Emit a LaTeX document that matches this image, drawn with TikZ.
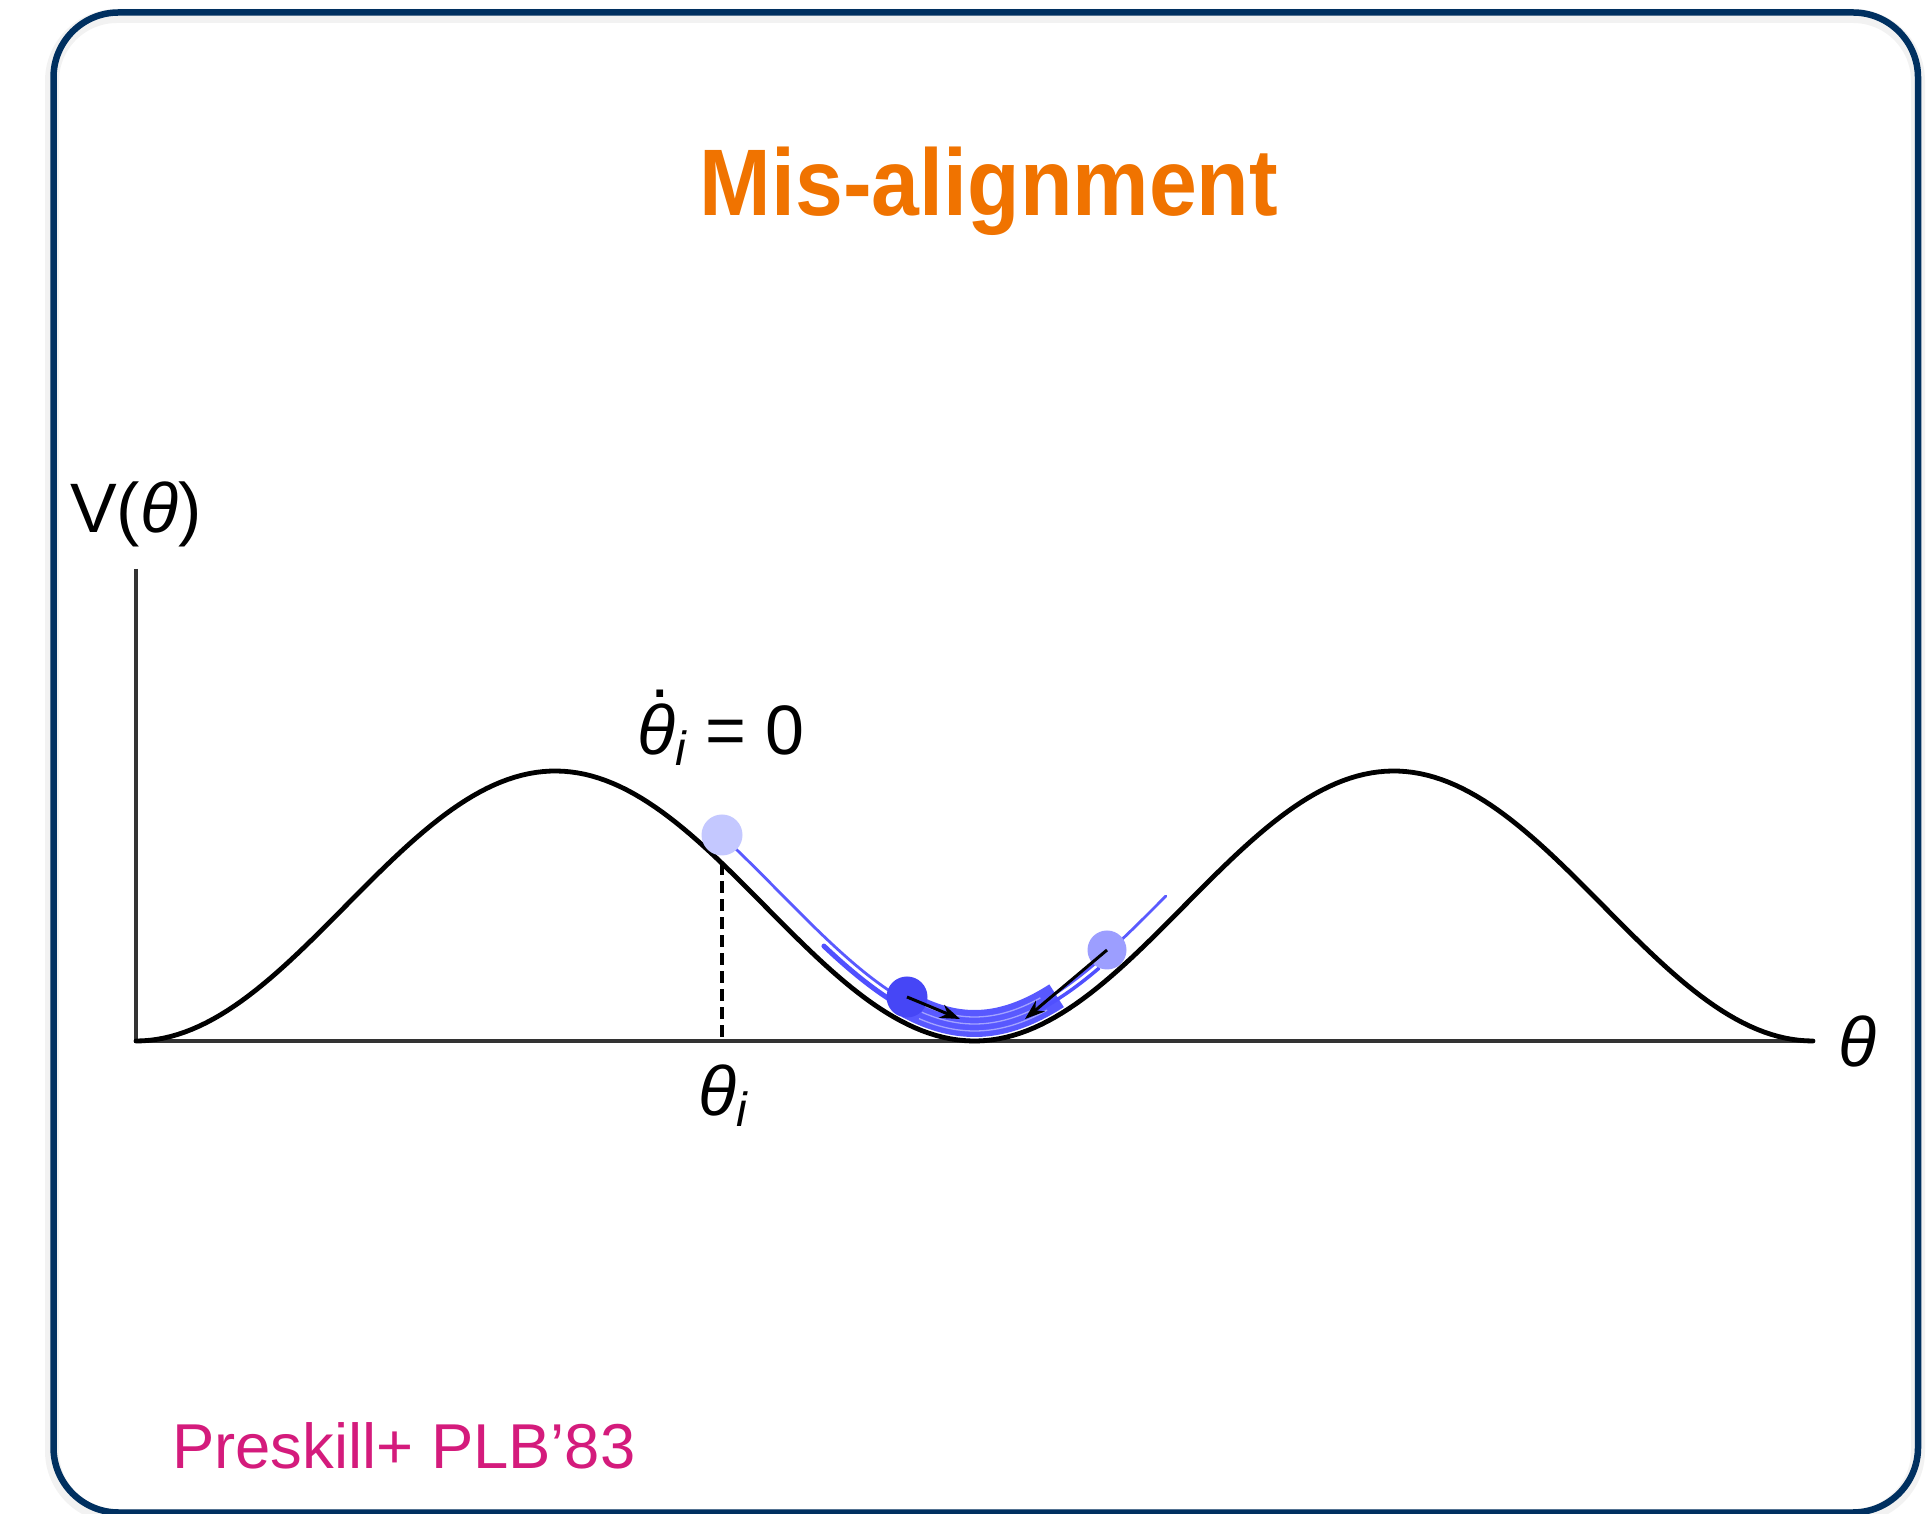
\documentclass[tikz,border=0pt]{standalone}
\usepackage{fontspec}
\setmainfont{Liberation Sans}
\usetikzlibrary{arrows.meta}
\definecolor{frameblue}{HTML}{003060}
\definecolor{titleorange}{HTML}{F07300}
\definecolor{refmagenta}{HTML}{D41B7C}
\definecolor{trajblue}{HTML}{5A5AFF}
\definecolor{bandblue}{HTML}{5050FF}
\definecolor{balllight}{HTML}{C4C8FF}
\definecolor{ballmid}{HTML}{9C9EFF}
\definecolor{balldark}{HTML}{4646F6}
\newcommand\subi{\raisebox{-11pt}{\fontsize{48}{50}\selectfont\itshape i}}
\newcommand\thetadot{\ooalign{\itshape θ\cr\hidewidth\kern8pt\raisebox{57pt}{.}\hidewidth\cr}}
\begin{document}
\begin{tikzpicture}[x=1pt,y=1pt,
  declare function={ph(\t)=0.429338*(\t-136); pot(\t)=472+135*(1-cos(ph(\t))); sl(\t)=1.0116*sin(ph(\t)); nn(\t)=sqrt(1+sl(\t)*sl(\t));},
  axisline/.style={line width=3.6pt, draw=black!80},
  curveline/.style={line width=4.8pt, draw=black, line cap=round},
  traj/.style={line width=2.8pt, draw=trajblue, line cap=round},
  band/.style={line width=5pt, draw=bandblue, line cap=round},
  ball/.style={circle, inner sep=0pt, draw=none},
  arr/.style={line width=3pt, draw=black, -{Stealth[length=20pt,width=14pt]}},
  lbl/.style={inner sep=0pt, anchor=base west, font=\fontsize{70}{80}\selectfont}
]
\fill[white] (0,0) rectangle (1932,1513);
\useasboundingbox (0,0) rectangle (1932,1513);
% frame
\draw[line width=14pt, black, opacity=0.05, rounded corners=65pt] (52,-3) rectangle (1918,1497);
\draw[line width=6.5pt, frameblue, rounded corners=65pt] (53.5,0.5) rectangle (1918,1500.5);
% title
\node[anchor=base, inner sep=0pt, text=titleorange] (title) at (989,1297)
  {\scalebox{1}[1.10]{\fontsize{86}{90}\selectfont\bfseries Mis-alignment}};
% axes
\coordinate (orig) at (136,472);
\coordinate (xend) at (1813,472);
\coordinate (ytop) at (136,944);
\draw[axisline] (ytop) -- (orig) -- (xend);
% potential
\draw[curveline] plot[domain=136:1813, samples=240, variable=\t] (\t, {pot(\t)});
% dashed marker
\coordinate (thi) at (722, {pot(722)});
\coordinate (thiaxis) at (722,472);
\draw[line width=3.4pt, dash pattern=on 12pt off 6pt] (thi) -- (thiaxis);
% trajectories
\fill[bandblue, opacity=0.95]
  plot[domain=900:1066, samples=80, variable=\t] ({\t - 31*sl(\t)/nn(\t)}, {pot(\t) + 31/nn(\t)})
  -- plot[domain=1066:900, samples=80, variable=\t] ({\t - 4*sl(\t)/nn(\t)}, {pot(\t) + 4/nn(\t)})
  -- cycle;
\foreach \d in {10,17,24}
  \draw[white, opacity=0.45, line width=1.3pt] plot[domain=915:1052, samples=60, variable=\t] ({\t - \d*sl(\t)/nn(\t)}, {pot(\t) + \d/nn(\t)});
\draw[band] plot[domain=815:905, samples=40, variable=\t] ({\t - 13*sl(\t)/nn(\t)}, {pot(\t) + 13/nn(\t)});
\draw[band, line width=3.5pt] plot[domain=1040:1108, samples=40, variable=\t] ({\t - 14*sl(\t)/nn(\t)}, {pot(\t) + 14/nn(\t)});
\draw[traj] plot[domain=708:1180, samples=120, variable=\t] ({\t - 20*sl(\t)/nn(\t)}, {pot(\t) + 20/nn(\t)});
% balls
\node[ball, fill=balllight, minimum size=41pt] (blight) at (722,678) {};
\node[ball, fill=ballmid, minimum size=39pt] (bmid) at (1107,563) {};
\node[ball, fill=balldark, minimum size=41pt] (bdark) at (907,516) {};
% arrows
\coordinate (adark) at (960,494);
\coordinate (amid) at (1025,494);
\draw[arr] (bdark.center) -- (adark);
\draw[arr] (bmid.center) -- (amid);
% labels
\node[lbl] (vlab) at (70,980) {V(\textit{θ})};
\node[lbl] (thdot) at (637,758) {\thetadot\subi{} = 0};
\node[lbl] (thilab) at (698,397) {\textit{θ}\subi};
\node[lbl] (thax) at (1838,446) {\textit{θ}};
\node[inner sep=0pt, anchor=base west, text=refmagenta, font=\fontsize{63.4}{70}\selectfont] (ref) at (172,45) {Preskill+ PLB’83};
\end{tikzpicture}
\end{document}
